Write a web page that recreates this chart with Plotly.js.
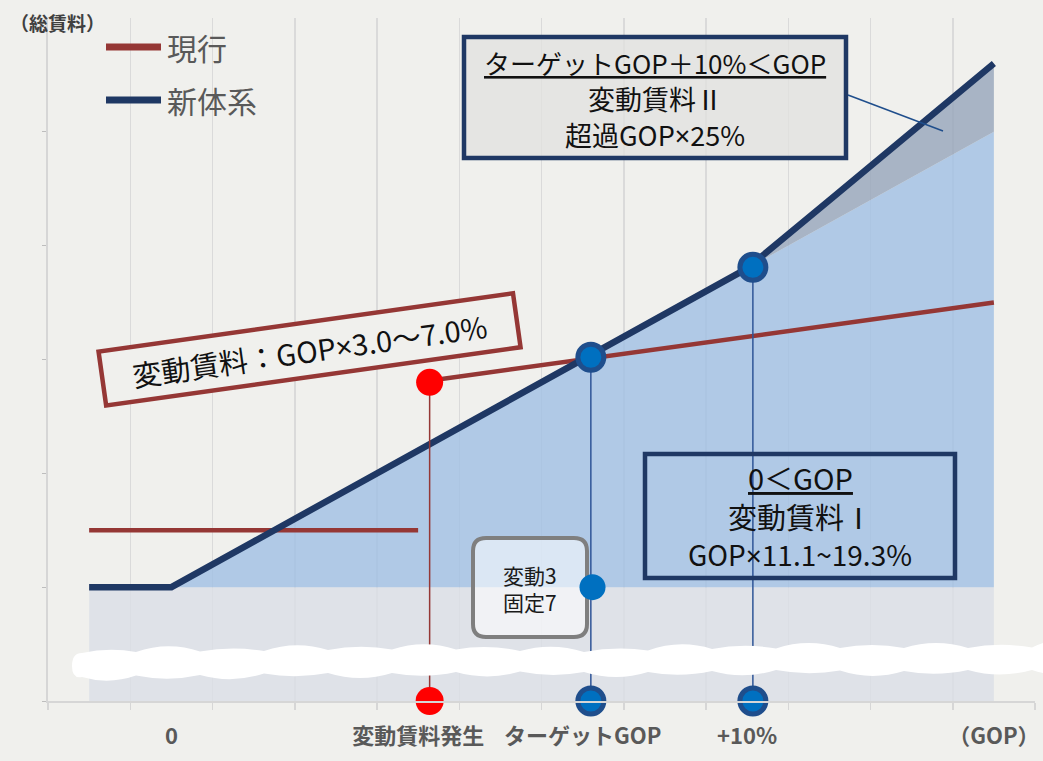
<!DOCTYPE html>
<html>
<head>
<meta charset="utf-8">
<script src="https://cdn.plot.ly/plotly-3.0.1.min.js"></script>
<style>
  html, body { margin: 0; padding: 0; background: #f0f0ed; }
  #chart { width: 1043px; height: 761px; }
</style>
</head>
<body>
<div id="chart"></div>
<script>
// ---------- data ----------
// 12 category slots along the GOP axis (label only where shown)
const categories = ['', '0', '', '', '変動賃料発生', '', 'ターゲットGOP', '', '+10%', '', '', '（GOP）'];
// 新体系 (total rent, new system)
const newSystem = [10, 10, 14, 18, 22, 26, 30, 34, 38, 44, 50, 56];
// top of 変動賃料Ⅰ area (fixed + variable I)
const variableITop = [10, 10, 14, 18, 22, 26, 30, 34, 38, 42, 46, 50];
// fixed rent base
const fixedRent = [10, 10, 10, 10, 10, 10, 10, 10, 10, 10, 10, 10];
// 現行 (current): flat part and variable part
const currentFlat = [15, 15, 15, 15, 15, null, null, null, null, null, null, null];
const currentVariable = [null, null, null, null, 28, 29, 30, 31, 32, 33, 34, 35];
// key points: 変動賃料発生, ターゲットGOP, +10%
const keyX = [4.64, 6.6, 8.57];
const keyY = [28, 30.2, 38.1];
// 変動3 固定7 split point
const splitX = [6.62];
const splitY = [10];

const xs = categories.map((c, i) => i + 0.5);
const tickVals = xs.filter((x, i) => categories[i] !== '');
const tickText = categories.filter(c => c !== '');

// ---------- geometry helpers (pixel -> paper) ----------
const L = 48, R = 8, T = 18, B = 60, W = 1043, H = 761;
const PW = W - L - R, PH = H - T - B;
const px = x => (x - L) / PW;
const py = y => (H - B - y) / PH;
const pt = (x, y) => px(x).toFixed(5) + ',' + py(y).toFixed(5);

function wavePath() {
  const tops = [652, 646, 651, 645, 649, 644, 649, 647, 651, 644, 648, 643, 647, 643, 647, 642];
  const bots = [680, 677, 679, 674, 678, 674, 676, 673, 677, 673, 675, 671, 676, 672, 674, 672];
  const x0 = 72, w = 64, n = tops.length;
  let d = 'M' + pt(x0, (tops[0] + bots[0]) / 2);
  d += ' Q' + pt(x0, tops[0] + 1) + ' ' + pt(x0 + 10, tops[0] + 1);
  for (let i = 0; i < n; i++) {
    const xa = i === 0 ? x0 + 10 : x0 + i * w;
    const xb = i === n - 1 ? 1070 : x0 + (i + 1) * w;
    const next = i === n - 1 ? tops[i] : tops[i + 1];
    d += ' Q' + pt((xa + xb) / 2, tops[i] - 5) + ' ' + pt(xb, (tops[i] + next) / 2 + 3);
  }
  d += ' L' + pt(1070, bots[n - 1]);
  for (let i = n - 1; i >= 0; i--) {
    const xb = i === n - 1 ? 1070 : x0 + (i + 1) * w;
    const xa = i === 0 ? x0 + 10 : x0 + i * w;
    const prev = i === 0 ? bots[0] : bots[i - 1];
    d += ' Q' + pt((xa + xb) / 2, bots[i] + 5) + ' ' + pt(xa, (bots[i] + prev) / 2 - 3);
  }
  d += ' Q' + pt(x0, bots[0] - 1) + ' ' + pt(x0, (tops[0] + bots[0]) / 2) + ' Z';
  return d;
}

function roundRect(x0, y0, x1, y1, r) {
  return 'M' + pt(x0 + r, y0) + ' L' + pt(x1 - r, y0) + ' Q' + pt(x1, y0) + ' ' + pt(x1, y0 + r) +
    ' L' + pt(x1, y1 - r) + ' Q' + pt(x1, y1) + ' ' + pt(x1 - r, y1) +
    ' L' + pt(x0 + r, y1) + ' Q' + pt(x0, y1) + ' ' + pt(x0, y1 - r) +
    ' L' + pt(x0, y0 + r) + ' Q' + pt(x0, y0) + ' ' + pt(x0 + r, y0) + ' Z';
}
const rect = (x0, y0, x1, y1, fill, color, width) => ({ type: 'rect', xref: 'paper', yref: 'paper',
  x0: px(x0), x1: px(x1), y0: py(y1), y1: py(y0), fillcolor: fill, line: { color: color, width: width }, layer: 'above' });

// ---------- colours ----------
const NAVY = '#1f3864', RED = '#953735', BLUE = '#0070c0', LINEBLUE = '#2f5597', RING = '#1f4e8c';
const FONT = '"Noto Sans CJK JP", "Noto Sans", sans-serif';
const TIMES = '<span style="font-family:\'Noto Sans\'">×</span>';

// ---------- traces ----------
const traces = [
  { x: xs, y: fixedRent, mode: 'lines', line: { width: 0 }, fill: 'tozeroy',
    fillcolor: 'rgba(219,222,230,0.8)', showlegend: false, hoverinfo: 'skip', name: '固定' },
  { x: xs, y: variableITop, mode: 'lines', line: { width: 0 }, fill: 'tonexty',
    fillcolor: 'rgba(160,191,228,0.8)', showlegend: false, hoverinfo: 'skip', name: '変動賃料Ⅰ' },
  { x: xs, y: newSystem, mode: 'lines', line: { width: 0 }, fill: 'tonexty',
    fillcolor: 'rgba(150,165,186,0.8)', showlegend: false, hoverinfo: 'skip', name: '変動賃料Ⅱ' },
  { x: xs, y: currentFlat, mode: 'lines', line: { color: RED, width: 4.5 }, name: '現行',
    showlegend: false, connectgaps: false },
  { x: xs, y: currentVariable, mode: 'lines', line: { color: RED, width: 4.5 }, name: '現行',
    showlegend: false, connectgaps: false },
  { x: xs, y: newSystem, mode: 'lines', line: { color: NAVY, width: 6.5 }, name: '新体系', showlegend: false }
];
// drop lines from key points to the axis
keyX.forEach((x, i) => {
  traces.push({ x: [x, x], y: [0, keyY[i]], mode: 'lines',
    line: { color: i === 0 ? RED : LINEBLUE, width: 1.5 }, showlegend: false, hoverinfo: 'skip' });
});
traces.push(
  { x: [keyX[0]], y: [keyY[0]], mode: 'markers', marker: { color: '#ff0000', size: 27 }, showlegend: false },
  { x: keyX.slice(1), y: keyY.slice(1), mode: 'markers',
    marker: { color: BLUE, size: 26, line: { color: RING, width: 5 } }, showlegend: false },
  { x: [keyX[0]], y: [0], mode: 'markers', marker: { color: '#ff0000', size: 28 }, showlegend: false, cliponaxis: false },
  { x: keyX.slice(1), y: [0, 0], mode: 'markers',
    marker: { color: BLUE, size: 26, line: { color: RING, width: 5 } }, showlegend: false, cliponaxis: false }
);

// ---------- layout ----------
const shapes = [
  // white "axis break" band
  { type: 'path', xref: 'paper', yref: 'paper', path: wavePath(), fillcolor: '#ffffff', line: { width: 0 }, layer: 'above' },
  // rounded box 変動3 固定7
  { type: 'path', xref: 'paper', yref: 'paper', path: roundRect(473, 538, 587, 637, 13),
    fillcolor: 'rgba(255,255,255,0.55)', line: { color: '#7f7f7f', width: 4 }, layer: 'above' },
  // split point dot (drawn above the rounded box), anchored at data coords
  { type: 'circle', xref: 'x', yref: 'y', xsizemode: 'pixel', ysizemode: 'pixel',
    xanchor: splitX[0], yanchor: splitY[0], x0: -13, x1: 13, y0: -13, y1: 13,
    fillcolor: BLUE, line: { width: 0 }, layer: 'above' },
  // 変動賃料Ⅱ box and its leader line
  rect(464, 37, 846, 158, 'rgba(225,225,223,0.75)', NAVY, 4.5),
  { type: 'line', xref: 'paper', yref: 'paper', x0: px(848), y0: py(95), x1: px(943), y1: py(131),
    line: { color: RING, width: 1.5 }, layer: 'above' },
  // 変動賃料Ⅰ box
  rect(645, 454, 955, 578, 'rgba(0,0,0,0)', NAVY, 4.5),
  // legend samples
  { type: 'line', xref: 'paper', yref: 'paper', x0: px(106), y0: py(47), x1: px(161), y1: py(47),
    line: { color: RED, width: 7 } },
  { type: 'line', xref: 'paper', yref: 'paper', x0: px(106), y0: py(100), x1: px(161), y1: py(100),
    line: { color: NAVY, width: 7 } }
];

const ann = (x, y, text, size, extra) => Object.assign({ xref: 'paper', yref: 'paper', x: px(x), y: py(y), text: text,
  showarrow: false, xanchor: 'center', yanchor: 'middle', font: { family: FONT, size: size, color: '#111111' } }, extra || {});

const annotations = [
  ann(8, 22, '（総賃料）', 19, { xanchor: 'left', font: { family: FONT, size: 19, color: '#404040', weight: 'bold' } }),
  ann(165, 47, '現行', 30, { xanchor: 'left', font: { family: FONT, size: 30, color: '#595959' } }),
  ann(165, 100, '新体系', 30, { xanchor: 'left', font: { family: FONT, size: 30, color: '#595959' } }),
  // 変動賃料Ⅱ box text
  ann(655, 62, '<u>ターゲットGOP＋10%＜GOP</u>', 26),
  ann(655, 98, '変動賃料Ⅱ', 27),
  ann(655, 134, '超過GOP' + TIMES + '25%', 27),
  // 変動賃料Ⅰ box text
  ann(800, 477, '<u>0＜GOP</u>', 29),
  ann(800, 516, '変動賃料Ⅰ', 29),
  ann(800, 554, 'GOP' + TIMES + '11.1~19.3%', 28),
  // current-system variable rent box (rotated)
  ann(309, 349, '変動賃料：GOP' + TIMES + '3.0～7.0%', 29, {
    textangle: -8, width: 414, height: 50, borderpad: 0, bordercolor: RED, borderwidth: 4.5, bgcolor: '#f0f0ed' }),
  ann(530, 588, '変動3<br>固定7', 21, { font: { family: FONT, size: 21, color: '#1a1a1a' } })
];

const layout = {
  width: W, height: H,
  margin: { l: L, r: R, t: T, b: B },
  paper_bgcolor: '#f0f0ed',
  plot_bgcolor: '#f0f0ed',
  showlegend: false,
  font: { family: FONT, color: '#595959' },
  xaxis: {
    range: [0, 12], fixedrange: true, zeroline: false,
    showline: true, linecolor: '#d6d6d6', linewidth: 2,
    tickmode: 'array', tickvals: tickVals, ticktext: tickText, ticks: '', showgrid: false,
    tickfont: { family: FONT, size: 22, color: '#595959', weight: 'bold' },
    ticklabelstandoff: 15,
    minor: { tickmode: 'array', tickvals: [0, 1, 2, 3, 4, 5, 6, 7, 8, 9, 10, 11, 12],
      showgrid: true, gridcolor: '#dadada', gridwidth: 1.5, ticks: 'outside', ticklen: 7, tickcolor: '#d6d6d6', tickwidth: 1.5 }
  },
  yaxis: {
    range: [0, 60], fixedrange: true, zeroline: false,
    showline: true, linecolor: '#d6d6d6', linewidth: 2,
    tickmode: 'array', tickvals: [0, 10, 20, 30, 40, 50], ticks: 'outside', ticklen: 4, tickcolor: '#bdbdbd',
    showticklabels: false, showgrid: false
  },
  shapes: shapes,
  annotations: annotations
};

Plotly.newPlot('chart', traces, layout, { displayModeBar: false, staticPlot: true });
</script>
</body>
</html>
